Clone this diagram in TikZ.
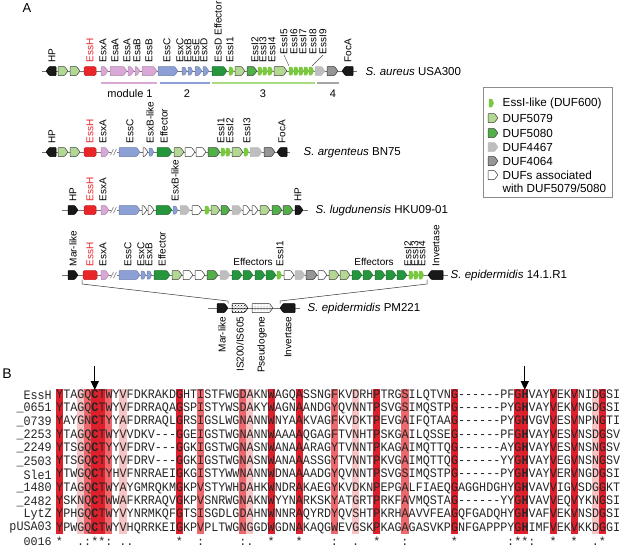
\documentclass[tikz,border=0pt]{standalone}
\usepackage{fontspec}
\setmainfont{Liberation Sans}
\setsansfont{Liberation Sans}
\setmonofont{Liberation Mono}
\usepackage{graphicx}
\usetikzlibrary{arrows.meta,patterns}

\definecolor{essred}{RGB}{232,38,42}
\definecolor{modpink}{RGB}{217,168,214}
\definecolor{modblue}{RGB}{140,160,214}
\definecolor{effgreen}{RGB}{38,150,62}
\definecolor{dufdark}{RGB}{82,176,72}
\definecolor{duflight}{RGB}{178,216,148}
\definecolor{essigreen}{RGB}{122,200,64}
\definecolor{dufgrey}{RGB}{190,190,190}
\definecolor{dufdkgrey}{RGB}{150,150,150}
\definecolor{alndark}{RGB}{222,32,44}
\definecolor{alnmid}{RGB}{236,104,108}
\definecolor{alnlight}{RGB}{246,196,196}

% gene arrows (x1, x2, y, style)
\newcommand{\geneR}[4]{\path[gene,#4] (#1,#3-4.5) -- (#2-3.5,#3-4.5) -- (#2,#3) -- (#2-3.5,#3+4.5) -- (#1,#3+4.5) -- cycle;}
\newcommand{\geneL}[4]{\path[gene,#4] (#1,#3) -- (#1+3.5,#3-4.5) -- (#2,#3-4.5) -- (#2,#3+4.5) -- (#1+3.5,#3+4.5) -- cycle;}
\newcommand{\geneBox}[4]{\path[gene,#4,rounded corners=1.5pt] (#1,#3-4.5) rectangle (#2,#3+4.5);}
% small EssI-like gene (x, y, style)
\newcommand{\geneS}[3]{\path[gene,#3] (#1,#2-4) -- (#1+2.8,#2-4) -- (#1+4.6,#2) -- (#1+2.8,#2+4) -- (#1,#2+4) -- cycle;}
\newcommand{\seqstretch}[1]{\scalebox{1}[1.1]{#1}}

\begin{document}
\begin{tikzpicture}[x=1pt, y=-1pt,
    every node/.style={font=\fontsize{10}{10}\selectfont, inner sep=0.5pt},
    gene/.style={line width=0.5pt, rounded corners=0.6pt},
    blk/.style={fill=black!90, draw=black},
    eh/.style={fill=essred, draw=essred!85!black},
    pk/.style={fill=modpink, draw=modpink!80!black},
    bl/.style={fill=modblue, draw=modblue!80!black},
    ef/.style={fill=effgreen, draw=effgreen!75!black},
    dA/.style={fill=duflight, draw=black!75},
    dB/.style={fill=dufdark, draw=black!75},
    es/.style={fill=essigreen, draw=essigreen},
    gy/.style={fill=dufgrey, draw=dufgrey},
    dg/.style={fill=dufdkgrey, draw=black!80},
    wh/.style={fill=white, draw=black!80},
    isel/.style={draw=black, pattern=crosshatch dots, pattern color=black},
    pseu/.style={draw=black!80, pattern=dots, pattern color=black!70},
    bbone/.style={draw=black!55, line width=0.6pt},
    genelbl/.style={rotate=90, anchor=west},
    genelbd/.style={rotate=90, anchor=east},
    species/.style={anchor=west, font=\fontsize{11.5}{12}\selectfont},
    legtxt/.style={anchor=west, font=\fontsize{11.7}{12}\selectfont},
    seqtxt/.style={font=\ttfamily\fontsize{11.75}{12}\selectfont, inner sep=0pt, text=black!85},
    arr/.style={-{Triangle[length=9pt,width=8pt]}, line width=1.3pt}]

    \fill[white] (0,0) rectangle (625,547);
    \useasboundingbox (0,0) rectangle (625,547);

    % Panel letters
    \node[font=\fontsize{13}{13}\selectfont] (lblA) at (27,8) {A};
    \node[font=\fontsize{14}{14}\selectfont] (lblB) at (7,374) {B};

    % Row 1: S. aureus USA300
    \draw[bbone] (42,71) -- (357,71);
    \geneL{46}{56}{71}{blk}
    \geneR{58}{68}{71}{dA}
    \geneR{70}{80}{71}{dA}
    \geneBox{84}{96}{71}{eh}
    \geneR{101}{108}{71}{pk}
    \geneR{110}{127}{71}{pk}
    \geneR{128}{134}{71}{pk}
    \geneR{135}{140}{71}{pk}
    \geneR{142}{157}{71}{pk}
    \geneR{158}{178}{71}{bl}
    \geneS{182}{71}{bl}
    \geneS{188}{71}{bl}
    \geneR{195}{202}{71}{bl}
    \geneR{203}{209}{71}{bl}
    \geneR{212}{227}{71}{ef}
    \geneS{229}{71}{es}
    \geneR{235}{245}{71}{dA}
    \geneR{247}{257}{71}{dB}
    \foreach \x in {258,263,268} {\geneS{\x}{71}{es}}
    \geneR{274}{287}{71}{dA}
    \foreach \x in {289,294,299,304,309} {\geneS{\x}{71}{es}}
    \geneR{315}{325}{71}{gy}
    \geneR{327}{338}{71}{dg}
    \geneL{342}{353}{71}{blk}

    \foreach \x/\t [count=\i] in {52/HP,103/EsxA,115/EsaA,127/EssA,137/EsaB,149/EssB,167/EssC,180/EsxC,188/EsxB,196/EssE,204/EsxD,218/EssD Effector,230/EssI1,255/EssI2,263/EssI3,272/EssI4,348/FocA}
        {\node[genelbl] (la\i) at (\x,63) {\t};}
    \node[genelbl, text=essred] (laH) at (90,63) {EssH};
    \foreach \x/\t [count=\i] in {284/EssI5,294/EssI6,303/EssI7,313/EssI8,323/EssI9}
        {\node[genelbl] (lb\i) at (\x,55) {\t};}
    \draw[black!70, line width=0.4pt] (lb1.west) -- (289,66);
    \draw[black!70, line width=0.4pt] (lb5.west) -- (312,66);
    \node[species] (sp1) at (365,72) {\textit{S. aureus} USA300};

    % Modules
    \draw[modpink, line width=1.5pt] (101,83) -- (157,83);
    \draw[modblue, line width=1.5pt] (160,83) -- (210,83);
    \draw[essigreen!65, line width=1.5pt] (212,83) -- (315,83);
    \draw[black!35, line width=1.5pt] (317,83) -- (339,83);
    \node[font=\fontsize{11}{11}\selectfont] (mod1) at (130,94) {module 1};
    \node[font=\fontsize{11}{11}\selectfont] (mod2) at (187,94) {2};
    \node[font=\fontsize{11}{11}\selectfont] (mod3) at (263,94) {3};
    \node[font=\fontsize{11}{11}\selectfont] (mod4) at (333,94) {4};

    % Row 2: S. argenteus BN75
    \draw[bbone] (42,152) -- (290,152);
    \geneL{46}{56}{152}{blk}
    \geneR{58}{68}{152}{dA}
    \geneR{70}{80}{152}{dA}
    \geneBox{84}{96}{152}{eh}
    \geneR{101}{109}{152}{pk}
    \geneR{119}{140}{152}{bl}
    \geneR{143}{148}{152}{wh}
    \geneS{149}{152}{bl}
    \geneR{157}{172}{152}{ef}
    \geneR{174}{184}{152}{dA}
    \geneR{185}{195}{152}{wh}
    \geneR{196}{206}{152}{wh}
    \geneR{208}{220}{152}{dB}
    \geneS{221}{152}{es}
    \geneS{226}{152}{es}
    \geneR{232}{243}{152}{dA}
    \geneS{244}{152}{es}
    \geneR{250}{262}{152}{gy}
    \geneR{264}{275}{152}{dg}
    \geneL{277}{287}{152}{blk}
    \foreach \x/\t [count=\i] in {52/HP,103/EsxA,130/EssC,150/EsxB-like,164/Effector,221/EssI1,230/EssI2,247/EssI3,282/FocA}
        {\node[genelbl] (lc\i) at (\x,144) {\t};}
    \node[genelbl, text=essred] (lcH) at (90,144) {EssH};
    \node[species] (sp2) at (303,153) {\textit{S. argenteus} BN75};

    % Row 3: S. lugdunensis HKU09-01
    \draw[bbone] (62,210) -- (308,210);
    \geneR{68}{78}{210}{blk}
    \geneBox{84}{96}{210}{eh}
    \geneR{101}{109}{210}{pk}
    \geneR{119}{140}{210}{bl}
    \geneR{142}{147}{210}{wh}
    \geneR{148}{154}{210}{wh}
    \geneR{156}{172}{210}{ef}
    \geneS{173}{210}{bl}
    \geneR{180}{190}{210}{gy}
    \geneR{192}{202}{210}{wh}
    \geneS{205}{210}{es}
    \geneR{211}{220}{210}{dA}
    \geneR{221}{230}{210}{dB}
    \geneR{232}{242}{210}{gy}
    \geneR{243}{250}{210}{wh}
    \geneR{252}{258}{210}{wh}
    \geneR{260}{270}{210}{dA}
    \geneR{272}{282}{210}{dB}
    \geneR{283}{293}{210}{dB}
    \geneR{295}{303}{210}{blk}
    \foreach \x/\t [count=\i] in {73/HP,103/EsxA,175/EsxB-like,298/HP}
        {\node[genelbl] (ld\i) at (\x,202) {\t};}
    \node[genelbl, text=essred] (ldH) at (90,202) {EssH};
    \node[species] (sp3) at (315,211) {\textit{S. lugdunensis} HKU09-01};

    % Row 4: S. epidermidis 14.1.R1
    \draw[bbone] (62,275) -- (448,275);
    \geneR{68}{78}{275}{blk}
    \geneBox{83}{97}{275}{eh}
    \geneR{101}{109}{275}{pk}
    \geneR{119}{140}{275}{bl}
    \geneS{141}{275}{bl}
    \geneS{147}{275}{bl}
    \geneR{154}{170}{275}{ef}
    \geneR{172}{182}{275}{dA}
    \geneR{183}{193}{275}{wh}
    \geneR{195}{205}{275}{wh}
    \geneR{207}{218}{275}{dB}
    \geneR{220}{230}{275}{gy}
    \foreach \x in {232,243,255,266} {\geneR{\x}{\x+10}{275}{ef}}
    \geneS{277}{275}{es}
    \geneR{284}{294}{275}{wh}
    \geneR{295}{305}{275}{gy}
    \geneR{306}{317}{275}{dg}
    \geneR{318}{327}{275}{wh}
    \geneR{329}{339}{275}{dA}
    \geneR{340}{350}{275}{dA}
    \foreach \x in {352,363,375,386,397} {\geneR{\x}{\x+10}{275}{ef}}
    \foreach \x in {409,414,419} {\geneS{\x}{275}{es}}
    \geneL{428}{443}{275}{blk}
    \foreach \x/\t [count=\i] in {73/Mar-like,103/EsxA,128/EssC,141/EsxC,149/EsxB,162/Effector,280/EssI1,408/EssI2,415/EssI3,422/EssI4,436/Invertase}
        {\node[genelbl] (le\i) at (\x,267) {\t};}
    \node[genelbl, text=essred] (leH) at (90,267) {EssH};
    \node (eff1) at (253,262) {Effectors};
    \node (eff2) at (374,262) {Effectors};
    \node[species] (sp4) at (450,276) {\textit{S. epidermidis} 14.1.R1};

    % Row 5: S. epidermidis PM221
    \draw[bbone] (208,308) -- (300,308);
    \geneR{217}{228}{308}{blk}
    \geneR{232}{248}{308}{isel}
    \geneR{252}{273}{308}{pseu}
    \geneL{280}{295}{308}{blk}
    \foreach \x/\t [count=\i] in {222/Mar-like,240/{IS200/IS605},262/Pseudogene,288/Invertase}
        {\node[genelbd] (lf\i) at (\x,316) {\t};}
    \node[species] (sp5) at (307,309) {\textit{S. epidermidis} PM221};

    % Cut marks and links between rows 4 and 5
    \foreach \y in {152,210,275} {
        \fill[white] (111,\y-3) rectangle (117,\y+3);
        \draw[black!55, line width=0.5pt] (110.5,\y+3) -- (113.5,\y-3) (113.5,\y+3) -- (116.5,\y-3);
    }
    \draw[black!80, line width=0.5pt] (82,279.5) -- (82,284) -- (228,301) -- (228,303.5);
    \draw[black!80, line width=0.5pt] (280,303.5) -- (280,301) -- (427,284) -- (427,279.5);

    % Legend
    \draw[black!45, line width=0.6pt] (483,87) rectangle (612,197);
    \geneS{489}{103}{es}
    \geneR{488}{498}{118}{dA}
    \geneR{488}{498}{133}{dB}
    \geneR{488}{498}{147}{gy}
    \geneR{488}{498}{161}{dg}
    \geneR{488}{498}{175}{wh}
    \node[legtxt] (leg1) at (502,103) {EssI-like (DUF600)};
    \node[legtxt] (leg2) at (502,118) {DUF5079};
    \node[legtxt] (leg3) at (502,133) {DUF5080};
    \node[legtxt] (leg4) at (502,147) {DUF4467};
    \node[legtxt] (leg5) at (502,161) {DUF4064};
    \node[legtxt] (leg6) at (502,175) {DUFs associated};
    \node[legtxt] (leg7) at (502,188) {with DUF5079/5080};

    % Alignment shading
    \foreach \c in {4,10,28,43,77}
        {\fill[alnlight] ({56+7.05*(\c-1)},389) rectangle ++(7.05,145);}
    \foreach \c in {5,8,21,27,40,50}
        {\fill[alnmid] ({56+7.05*(\c-1)},389) rectangle ++(7.05,145);}
    \foreach \c in {1,6,7,18,31,35,46,57,66,67,71,74,78}
        {\fill[alndark] ({56+7.05*(\c-1)},389) rectangle ++(7.05,145);}

    % Alignment rows
    \foreach \nm/\sa/\sb/\sc [count=\i] in {
        EssH/YTAGQ/TWYVFDKRAKDGHTISTFWGDAKNWAGQASSNGFKVDRHPTRGSILQTVNG------PFG/VAYVEKVNIDGSI,
        \_0651/YTAGQ/TWYVFDRRAQAGSPISTYWSDAKYWAGNAANDGYQVNNTPSVGSIMQSTPG------PYG/VAYVEKVNGDGSI,
        \_0739/YAYGN/TYYAFDRRAQLGRSIGSLWGNANNWNYAAKVAGFKVDKTPEVGAIFQTAAG------PYG/VGVVESVNPNGTI,
        \_2253/YTAGQ/TWYVVDKV---GGEIGSTWGNANNWAAAAQGAGFTVNHTPSKGAILQSSEG------PFG/VAYVESVNSDGSV,
        \_2249/YTSGQ/TYYVFDRV---GGKIGSTWGNASNWANAAARAGYTVNNTPKAGAIMQTTQG------AYG/VAYVESVNSNGSV,
        \_2503/YTSGQ/TYYVFDRV---GGKIGSTWGNASNWANAAASSGYTVNNTPKVGAIMQTTQG------YYG/VAYVEGVNSNGSV,
        Sle1/YTWGQ/TYHVFNRRAEIGKGISTYWWNANNWDNAAAADGYQVNNTPSVGSIMQSTPG------PYG/VAYVERVNGDGSI,
        \_1480/YTAGQ/TWYAYGMRQKMGKPVSTYWHDAHKWNDRAKAEGYKVDKNPEPGALFIAEQGAGGHDGHYG/VAVVIGVSDGGKT,
        \_2482/YSKNQ/TWWAFKRRAQVGKPVSNRWGNAKNWYYNARKSKYATGRTPRKFAVMQSTAG------YYG/VAVVEQVYKNGSI,
        LytZ/YPHGQ/TWYVYNRMKQFGTSISGDLGDAHNWNNRAQYRDYQVSHTPKRHAAVVFEAGQFGADQHYG/VAFVEKVNSDGSI,
        pUSA03/YPWGQ/TWYVHQRRKEIGKPVPLTWGNGGDWGDNAKAQGWEVGSKPKAGAGASVKPGNFGAPPPYG/IMFVEKVKKDGGI}
    {
        \node[seqtxt, anchor=east] (nm\i) at (52,{395+13.3*(\i-1)}) {\seqstretch{\nm}};
        \node[seqtxt, anchor=west] (sq\i) at (56,{395+13.3*(\i-1)}) {\seqstretch{\sa\textbf{C}\sb\textbf{H}\sc}};
    }

    % Consensus line
    \node[seqtxt, anchor=base east] (nm12) at (52,545) {0016};
    \foreach \c/\s in {1/*,4/.,5/:,6/*,7/*,8/:,10/.,11/.,18/*,21/:,27/:,28/.,31/*,35/*,40/:,43/.,46/*,50/:,57/*,65/:,66/*,67/*,68/:,71/*,74/*,77/.,78/*}
        {\node[seqtxt, anchor=base] (cs\c) at ({56+7.05*(\c-0.5)},545.5) {\s};}

    % Arrows to the active-site residues
    \coordinate (topC) at (94.8,366);
    \coordinate (tipC) at (94.8,390);
    \coordinate (topH) at (524.8,366);
    \coordinate (tipH) at (524.8,390);
    \draw[arr] (topC) -- (tipC);
    \draw[arr] (topH) -- (tipH);
\end{tikzpicture}
\end{document}
